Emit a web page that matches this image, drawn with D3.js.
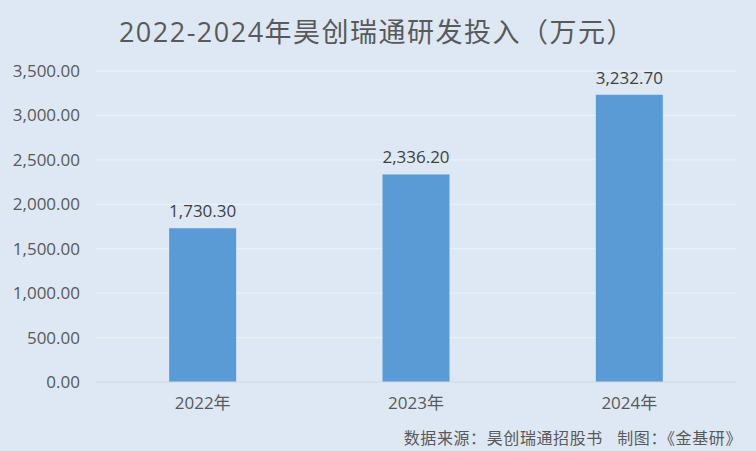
<!DOCTYPE html>
<html><head><meta charset="utf-8">
<script src="https://cdn.jsdelivr.net/npm/d3@7"></script>
<style>
html,body{margin:0;padding:0;background:#dee8f4;}
svg{display:block;}
</style></head>
<body>
<svg id="c" width="756" height="451"></svg>
<script>
const categories = ["2022年","2023年","2024年"];
const values = [1730.30, 2336.20, 3232.70];
const yTicks = [0,500,1000,1500,2000,2500,3000,3500];
const title = "2022-2024年昊创瑞通研发投入（万元）";
const source = "数据来源：昊创瑞通招股书   制图：《金基研》";

const svg = d3.select("#c");
const W=756,H=451;
const m={left:96,right:20,top:71,bottom:69};
const font = "'Open Sans','Noto Sans CJK SC',sans-serif";
svg.append("rect").attr("width",W).attr("height",H).attr("fill","#dee8f4");

const x = d3.scaleBand().domain(categories).range([m.left,W-m.right]).paddingInner(0.686).paddingOuter(0.343);
const y = d3.scaleLinear().domain([0,3500]).range([H-m.bottom,m.top]);

// gridlines
svg.append("g").selectAll("line").data(yTicks.filter(d=>d>0)).join("line")
  .attr("x1",m.left).attr("x2",W-m.right)
  .attr("y1",d=>y(d)).attr("y2",d=>y(d))
  .attr("stroke","#edf2f8").attr("stroke-width",1);

// y axis labels
const fmt = d3.format(",.2f");
const yAxis = d3.axisLeft(y).tickValues(yTicks).tickFormat(fmt).tickSize(0).tickPadding(16);
const gy = svg.append("g").attr("transform",`translate(${m.left},0)`).call(yAxis);
gy.select(".domain").remove();
gy.selectAll("text").attr("font-family",font).attr("font-size",17).attr("fill","#595959");

// bars
svg.append("g").selectAll("rect").data(values).join("rect")
  .attr("x",(d,i)=>x(categories[i])).attr("width",x.bandwidth())
  .attr("y",d=>y(d)).attr("height",d=>y(0)-y(d))
  .attr("fill","#5b9bd5");

// baseline
svg.append("line").attr("x1",m.left).attr("x2",W-m.right)
  .attr("y1",y(0)).attr("y2",y(0)).attr("stroke","#d0d6de").attr("stroke-width",1);

// data labels
svg.append("g").selectAll("text").data(values).join("text")
  .attr("x",(d,i)=>x(categories[i])+x.bandwidth()/2).attr("y",d=>y(d)-11)
  .attr("text-anchor","middle").attr("font-family",font).attr("font-size",17).attr("fill","#404040")
  .text(d=>fmt(d));

// x axis
const xAxis = d3.axisBottom(x).tickSize(0).tickPadding(15);
const gx = svg.append("g").attr("transform",`translate(0,${y(0)})`).call(xAxis);
gx.select(".domain").remove();
gx.selectAll("text").attr("font-family",font).attr("font-size",17).attr("fill","#595959");

// title
svg.append("text").attr("x",377).attr("y",42).attr("text-anchor","middle")
  .attr("font-family",font).attr("font-size",27).attr("letter-spacing",1.5).attr("fill","#595959").text(title);

// source
svg.append("text").attr("x",742).attr("y",444).attr("text-anchor","end")
  .attr("font-family",font).attr("font-size",16).attr("letter-spacing",0.6).attr("fill","#595959").attr("xml:space","preserve").text(source);
</script>
</body></html>
